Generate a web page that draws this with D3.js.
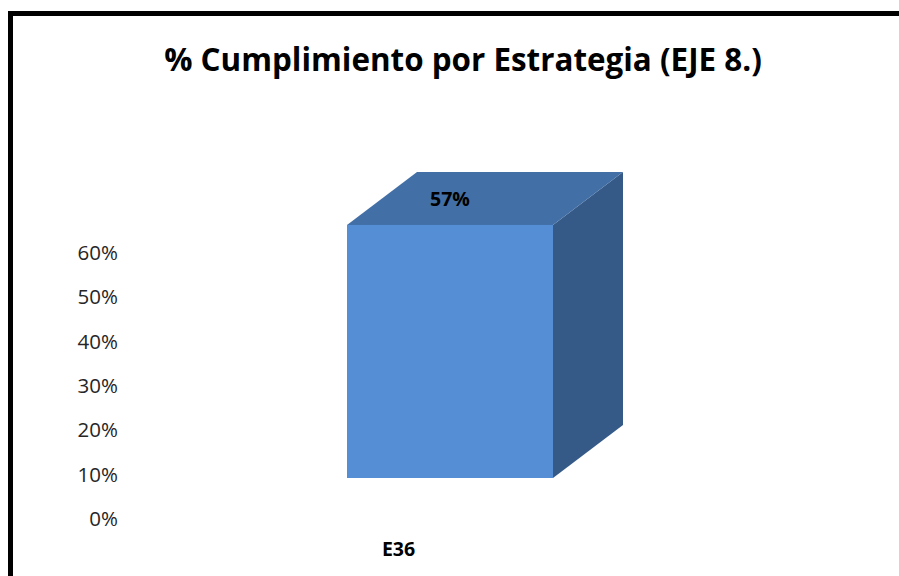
<!DOCTYPE html>
<html>
<head>
<meta charset="utf-8">
<script src="https://cdn.jsdelivr.net/npm/d3@7"></script>
<style>
  html, body { margin: 0; padding: 0; background: #fff; }
  svg { display: block; }
</style>
</head>
<body>
<svg id="chart" width="899" height="576"></svg>
<script>
const categories = ["E36"];
const values = [0.57];
const valueLabels = ["57%"];
const tickValues = [0, 0.1, 0.2, 0.3, 0.4, 0.5, 0.6];
const titleText = "% Cumplimiento por Estrategia (EJE 8.)";

const svg = d3.select("#chart");

// frame
svg.append("rect").attr("x", 10.5).attr("y", 13.5)
  .attr("width", 900).attr("height", 600)
  .attr("fill", "#fff").attr("stroke", "#000").attr("stroke-width", 5);

// title
const title = svg.append("text")
  .attr("x", 463).attr("y", 71)
  .attr("text-anchor", "middle")
  .attr("font-family", "'Open Sans', sans-serif")
  .attr("font-weight", "bold")
  .attr("font-size", 28)
  .attr("fill", "#000")
  .text(titleText);
(function () {
  const w = title.node().getComputedTextLength();
  title.attr("font-size", 28 * 598 / w);
})();

// scales
const x = d3.scaleBand().domain(categories).range([347, 553]).padding(0);
const yBar = d3.scaleLinear().domain([0, 0.6]).range([478, 478 - 266.4]);
const yAxisScale = d3.scaleLinear().domain([0, 0.6]).range([519, 253]);
const depthX = 70, depthY = 53;

// axis labels
const axis = d3.axisLeft(yAxisScale)
  .tickValues(tickValues)
  .tickFormat(d3.format(".0%"))
  .tickSize(0).tickPadding(0);
const gAxis = svg.append("g").attr("transform", "translate(118,0)").call(axis);
gAxis.select(".domain").remove();
gAxis.selectAll("text")
  .attr("font-family", "'Open Sans', sans-serif")
  .attr("font-size", 20.5)
  .attr("fill", "#262626");

// bars (3D)
const bars = svg.append("g");
categories.forEach((c, i) => {
  const x0 = x(c), x1 = x(c) + x.bandwidth();
  const yTop = yBar(values[i]), yBot = yBar(0);
  bars.append("path")
    .attr("d", `M${x1},${yTop} L${x1 + depthX},${yTop - depthY} L${x1 + depthX},${yBot - depthY} L${x1},${yBot} Z`)
    .attr("fill", "#355A88");
  bars.append("path")
    .attr("d", `M${x0},${yTop} L${x0 + depthX},${yTop - depthY} L${x1 + depthX},${yTop - depthY} L${x1},${yTop} Z`)
    .attr("fill", "#426FA6");
  bars.append("rect")
    .attr("x", x0).attr("y", yTop)
    .attr("width", x1 - x0).attr("height", yBot - yTop)
    .attr("fill", "#558ED5");
  bars.append("text")
    .attr("x", (x0 + x1) / 2).attr("y", yTop - 19)
    .attr("text-anchor", "middle")
    .attr("font-family", "'Open Sans', sans-serif")
    .attr("font-weight", "bold")
    .attr("font-size", 19.5)
    .attr("fill", "#000")
    .text(valueLabels[i]);
  bars.append("text")
    .attr("x", x0 + x.bandwidth() / 4).attr("y", 556)
    .attr("text-anchor", "middle")
    .attr("font-family", "'Open Sans', sans-serif")
    .attr("font-weight", "bold")
    .attr("font-size", 19.5)
    .attr("fill", "#000")
    .text(c);
});
</script>
</body>
</html>
